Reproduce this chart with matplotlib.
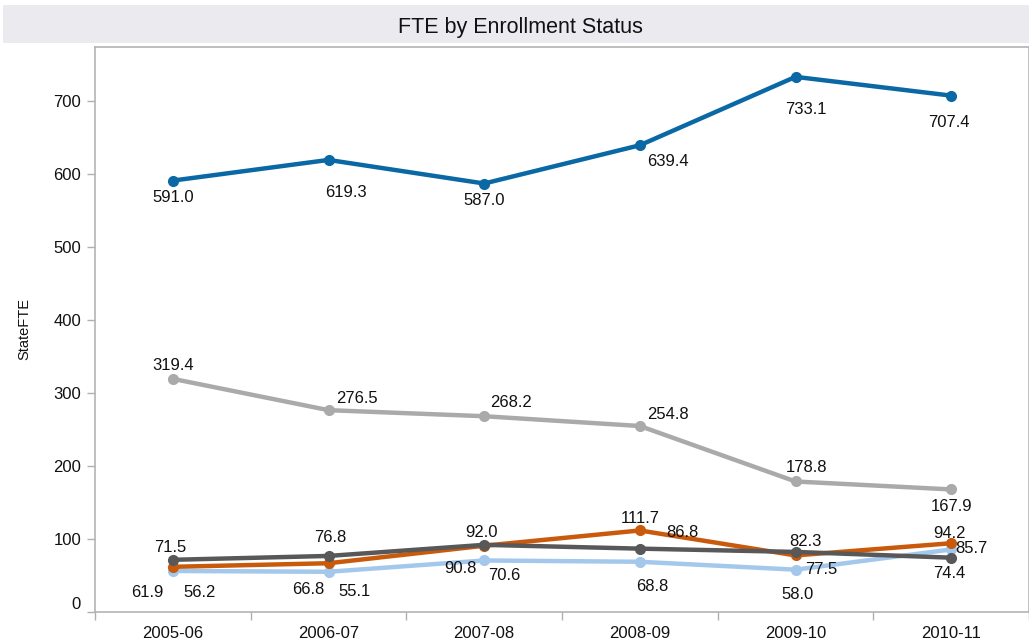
import matplotlib
matplotlib.use("Agg")
import matplotlib.pyplot as plt
from matplotlib.patches import Rectangle

plt.rcParams['font.family'] = ['Liberation Sans', 'DejaVu Sans']

years = ["2005-06", "2006-07", "2007-08", "2008-09", "2009-10", "2010-11"]
series_blue = [591.0, 619.3, 587.0, 639.4, 733.1, 707.4]
series_gray = [319.4, 276.5, 268.2, 254.8, 178.8, 167.9]
series_lightblue = [56.2, 55.1, 70.6, 68.8, 58.0, 85.7]
series_orange = [61.9, 66.8, 90.8, 111.7, 77.5, 94.2]
series_darkgray = [71.5, 76.8, 92.0, 86.8, 82.3, 74.4]

# label offsets in pixels (dx right, dy down) -- styling only
off_blue = [(0, 17), (17, 33), (0, 17), (28, 16), (10, 33), (-2, 27)]
off_gray = [(0, -13), (28, -12), (27, -14), (28, -12), (11, -14), (0, 17)]
off_lightblue = [(27, 22), (26, 20), (20, 15), (12, 25), (2, 25), (20, -1)]
off_orange = [(-26, 26), (-20, 26), (-24, 23), (0, -12), (26, 14), (-2, -10)]
off_darkgray = [(-3, -12), (2, -18), (-3, -12), (43, -16), (10, -10), (-2, 16)]

fig = plt.figure(figsize=(10.29, 6.44), dpi=100)
fig.patches.append(Rectangle((3 / 1029, 1 - 43 / 644), 1026 / 1029, 38 / 644,
                             transform=fig.transFigure, facecolor='#ebebef',
                             edgecolor='none', zorder=0))
fig.text(520 / 1029, 1 - 27 / 644, "FTE by Enrollment Status", ha='center',
         va='center', fontsize=15.5, color='#111111')

ax = fig.add_axes([95 / 1029, 1 - 612 / 644, 934 / 1029, (612 - 47) / 644])
x = list(range(len(years)))

specs = [
    (series_blue, '#0a69a5', off_blue, 3),
    (series_gray, '#aaaaaa', off_gray, 3),
    (series_lightblue, '#a3c8ec', off_lightblue, 4),
    (series_orange, '#c95a0b', off_orange, 5),
    (series_darkgray, '#585858', off_darkgray, 6),
]
for vals, col, offs, z in specs:
    ax.plot(x, vals, color=col, lw=3.2, marker='o', ms=7, zorder=z,
            solid_capstyle='round', clip_on=False)
    for xi, v, (dx, dy) in zip(x, vals, offs):
        ax.annotate(f"{v:.1f}", (xi, v), xytext=(dx, -dy),
                    textcoords='offset pixels', ha='center', va='center',
                    fontsize=12, color='#111111', zorder=10)

ax.set_xlim(-0.5, -0.5 + 934 / 157.2)
ax.set_ylim(0, 774)
ax.set_yticks(range(0, 800, 100))
ax.tick_params(axis='y', length=6, width=1, color='#b0b0b0', labelsize=12,
               pad=4, labelcolor='#111111')
ax.get_yticklabels()[0].set_va('bottom')
ax.set_xticks([i - 0.5 for i in range(len(years) + 1)])
ax.set_xticklabels([])
ax.tick_params(axis='x', which='major', length=6, width=1, color='#b0b0b0')
ax.set_xticks(x, minor=True)
ax.set_xticklabels(years, minor=True)
ax.tick_params(axis='x', which='minor', length=0, labelsize=12, pad=10,
               labelcolor='#111111')
for s in ['left', 'bottom', 'top', 'right']:
    ax.spines[s].set_color('#b4b4b4')
    ax.spines[s].set_linewidth(1.2)
ax.set_ylabel("StateFTE", fontsize=10.5, color='#111111', labelpad=16)

fig.savefig("out.png", dpi=100)
